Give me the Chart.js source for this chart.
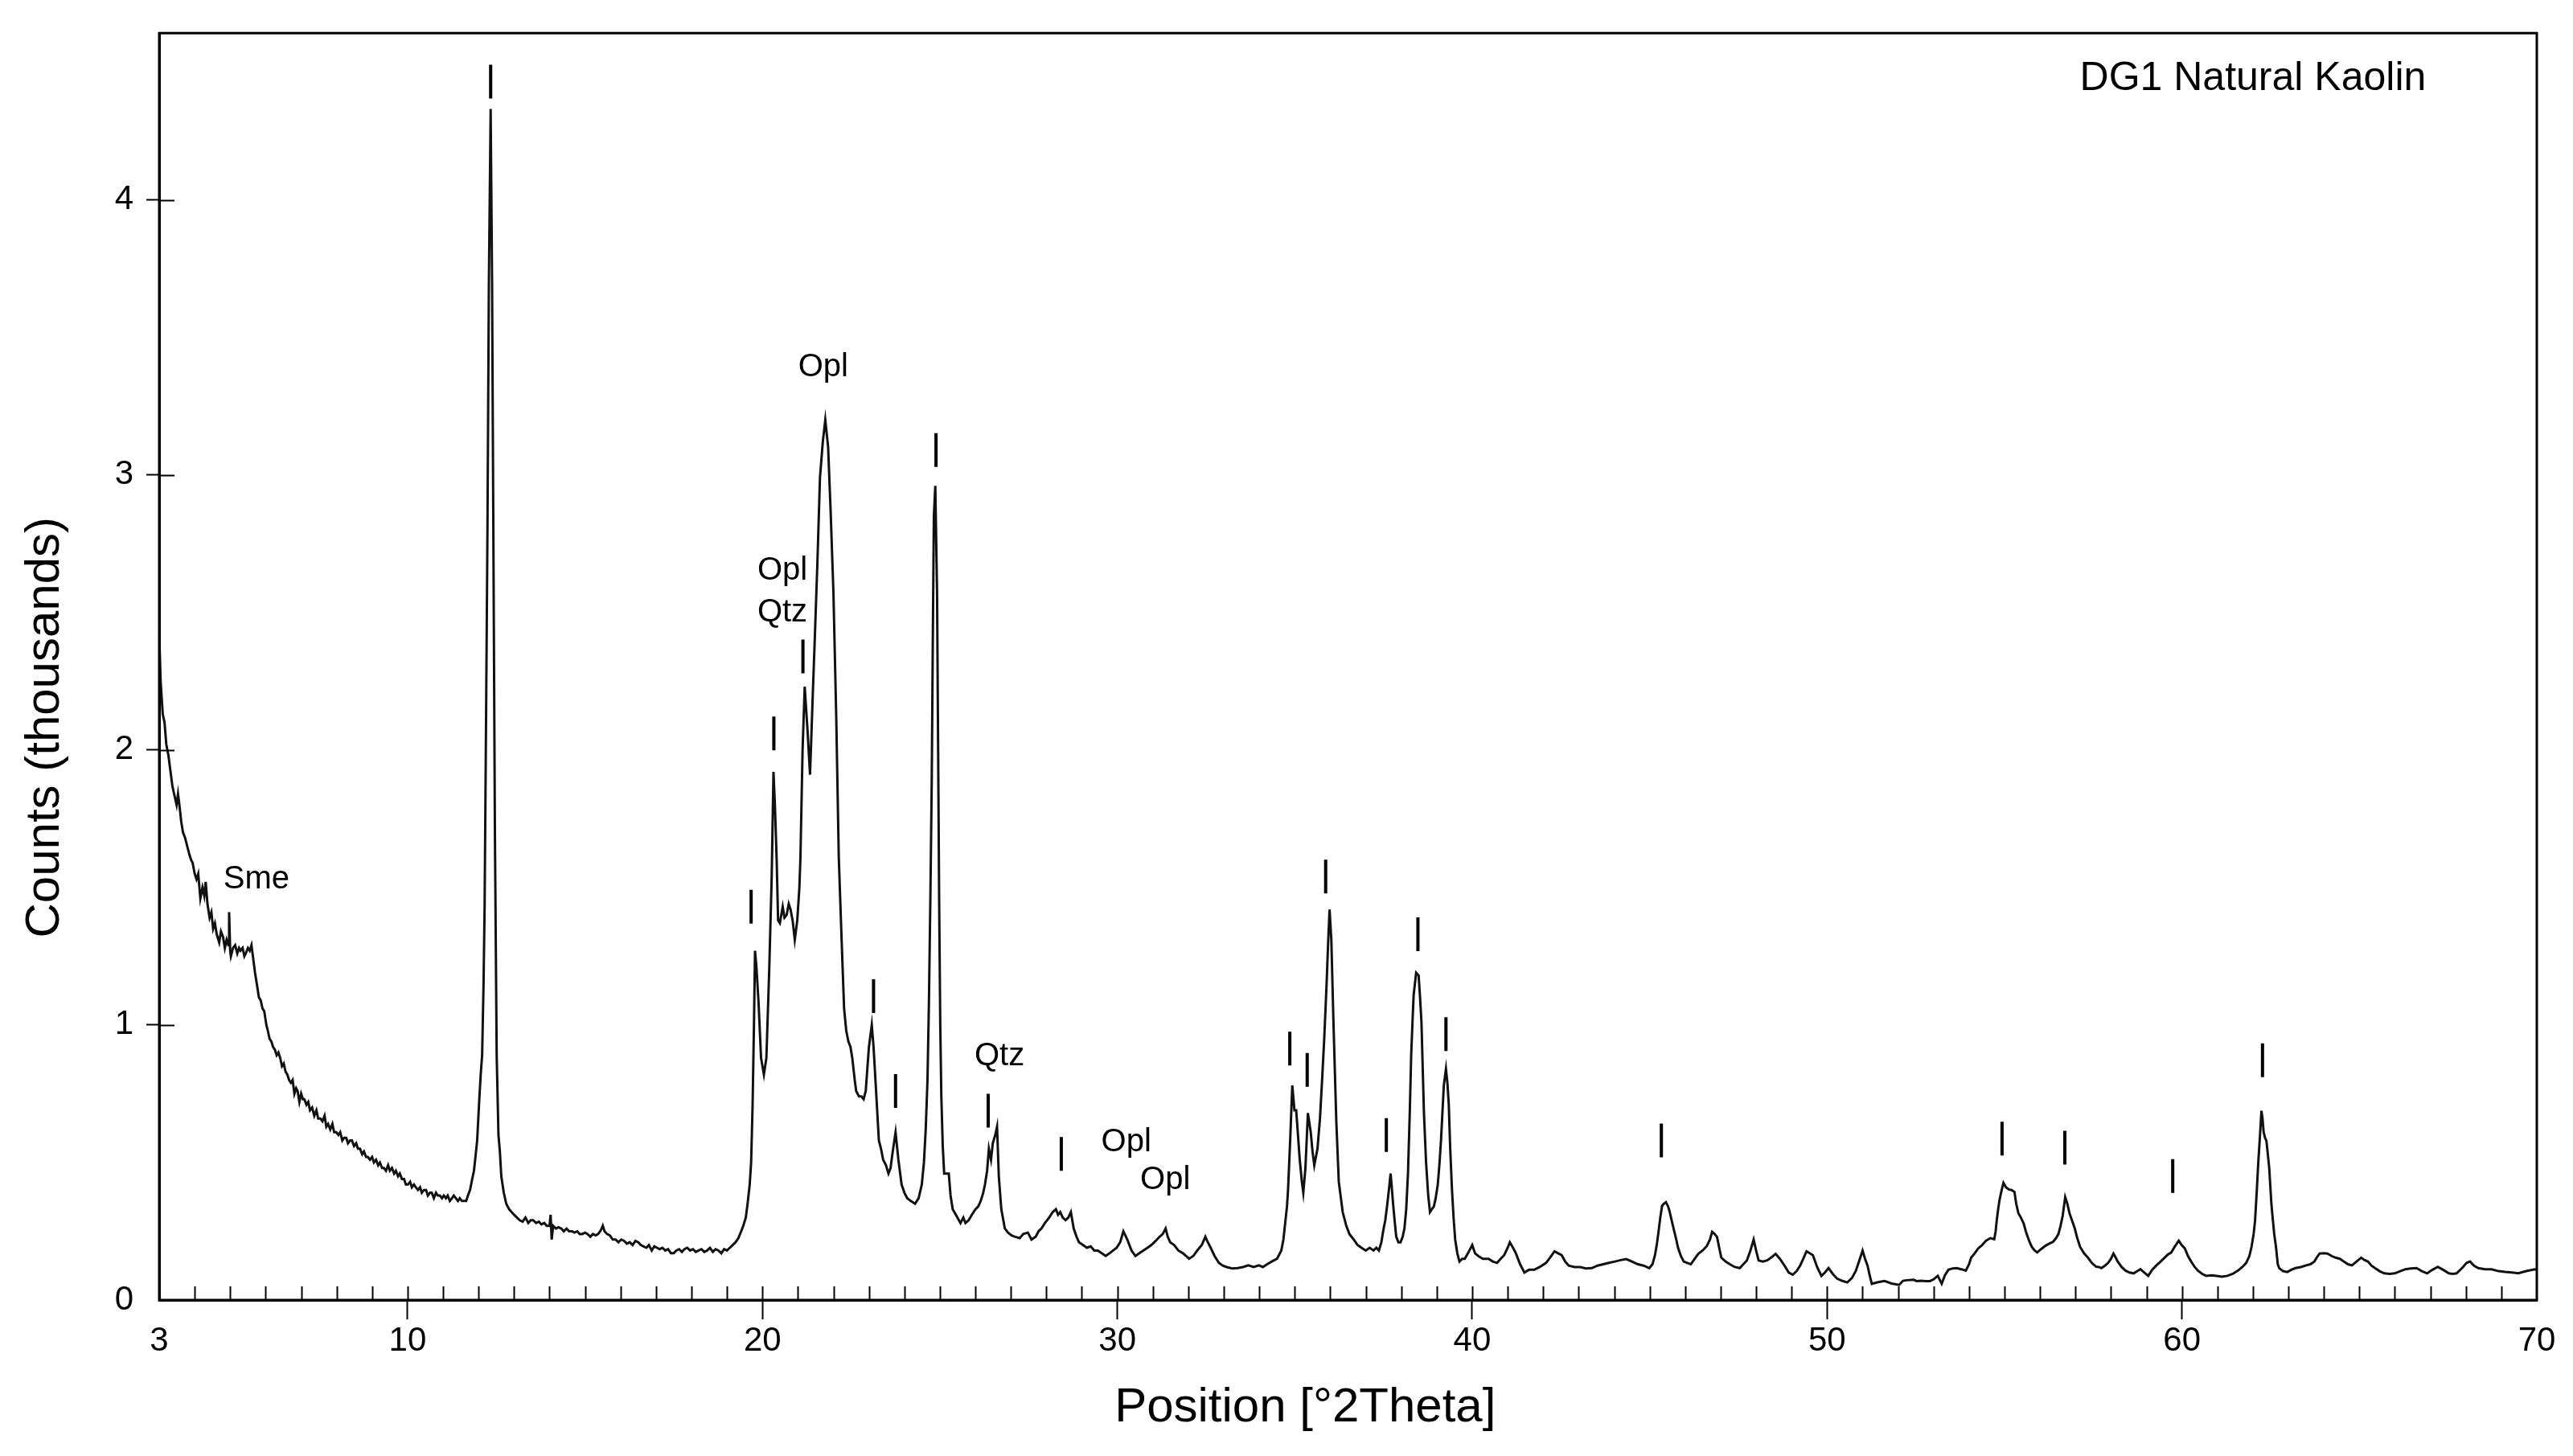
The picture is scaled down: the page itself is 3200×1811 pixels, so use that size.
<!DOCTYPE html>
<html>
<head>
<meta charset="utf-8">
<script src="https://cdn.jsdelivr.net/npm/chart.js@4.4.1/dist/chart.umd.min.js"></script>
<style>
html,body{margin:0;padding:0;background:#ffffff;}
canvas{display:block;}
</style>
</head>
<body>
<canvas id="c" width="3200" height="1811"></canvas>
<script>
// ---- Data (x: °2Theta, y: counts in thousands) ----
const twoTheta = [
3.00,3.04,3.10,3.15,3.20,3.26,3.31,3.37,3.42,3.49,
3.53,3.56,3.62,3.67,3.73,3.79,3.85,3.90,3.94,4.00,
4.05,4.10,4.16,4.22,4.27,4.31,4.36,4.42,4.47,4.52,
4.57,4.62,4.69,4.74,4.80,4.85,4.90,4.95,4.97,5.00,
5.02,5.08,5.14,5.20,5.25,5.29,5.35,5.40,5.44,5.50,
5.55,5.60,5.65,5.70,5.75,5.81,5.86,5.91,5.96,6.02,
6.06,6.11,6.16,6.21,6.26,6.31,6.36,6.41,6.46,6.51,
6.56,6.61,6.66,6.71,6.76,6.81,6.86,6.90,6.95,7.00,
7.05,7.09,7.15,7.20,7.25,7.31,7.37,7.43,7.48,7.54,
7.60,7.66,7.71,7.76,7.82,7.88,7.93,7.99,8.05,8.10,
8.16,8.21,8.27,8.32,8.38,8.43,8.49,8.55,8.60,8.66,
8.72,8.77,8.83,8.88,8.94,9.00,9.05,9.11,9.17,9.22,
9.28,9.33,9.39,9.45,9.50,9.56,9.62,9.67,9.73,9.78,
9.84,9.90,9.95,10.01,10.07,10.12,10.18,10.23,10.29,10.35,
10.40,10.46,10.52,10.57,10.63,10.68,10.74,10.80,10.85,10.91,
10.97,11.02,11.08,11.13,11.19,11.25,11.30,11.36,11.42,11.47,
11.53,11.58,11.65,11.70,11.76,11.82,11.87,11.92,11.96,12.02,
12.06,12.10,12.14,12.17,12.21,12.25,12.29,12.34,12.38,12.42,
12.46,12.51,12.56,12.60,12.64,12.71,12.78,12.86,12.93,13.00,
13.08,13.16,13.24,13.32,13.40,13.47,13.54,13.62,13.70,13.77,
13.85,13.92,14.00,14.03,14.06,14.10,14.18,14.25,14.33,14.40,
14.48,14.55,14.63,14.70,14.78,14.85,14.92,15.00,15.07,15.15,
15.22,15.30,15.37,15.45,15.50,15.55,15.62,15.70,15.78,15.86,
15.94,16.02,16.10,16.18,16.26,16.34,16.42,16.50,16.57,16.65,
16.73,16.80,16.88,16.95,17.03,17.10,17.18,17.26,17.34,17.42,
17.50,17.57,17.65,17.73,17.80,17.88,17.96,18.04,18.12,18.20,
18.28,18.36,18.44,18.52,18.60,18.68,18.76,18.84,18.92,19.00,
19.08,19.16,19.24,19.32,19.40,19.46,19.53,19.58,19.64,19.68,
19.72,19.76,19.79,19.83,19.89,19.96,20.04,20.11,20.19,20.26,
20.31,20.35,20.40,20.44,20.49,20.57,20.62,20.68,20.74,20.79,
20.85,20.91,20.98,21.04,21.07,21.13,21.19,21.27,21.34,21.42,
21.47,21.55,21.62,21.70,21.77,21.85,21.92,22.00,22.08,22.15,
22.23,22.30,22.36,22.42,22.48,22.53,22.60,22.64,22.72,22.79,
22.85,22.91,22.96,23.00,23.08,23.13,23.21,23.28,23.34,23.40,
23.48,23.55,23.61,23.66,23.75,23.83,23.92,24.00,24.08,24.18,
24.30,24.40,24.49,24.55,24.60,24.65,24.69,24.73,24.77,24.80,
24.83,24.87,24.92,24.95,24.98,25.01,25.04,25.08,25.12,25.18,
25.25,25.30,25.36,25.45,25.58,25.66,25.72,25.81,25.90,26.00,
26.08,26.15,26.22,26.27,26.33,26.38,26.44,26.49,26.56,26.61,
26.66,26.73,26.83,26.92,27.02,27.12,27.25,27.35,27.48,27.58,
27.70,27.78,27.86,27.96,28.08,28.18,28.27,28.33,28.39,28.46,
28.54,28.62,28.69,28.77,28.85,28.92,29.03,29.14,29.25,29.35,
29.45,29.56,29.67,29.78,29.88,29.98,30.08,30.17,30.28,30.40,
30.51,30.62,30.73,30.85,30.96,31.08,31.19,31.28,31.36,31.42,
31.49,31.60,31.72,31.85,31.94,32.02,32.14,32.25,32.38,32.48,
32.55,32.63,32.74,32.86,32.97,33.08,33.24,33.39,33.54,33.69,
33.84,33.99,34.10,34.22,34.35,34.50,34.62,34.68,34.73,34.78,
34.81,34.87,34.93,34.99,35.04,35.09,35.14,35.20,35.24,35.30,
35.37,35.45,35.50,35.55,35.64,35.71,35.77,35.83,35.90,35.94,
35.98,36.03,36.09,36.17,36.24,36.35,36.45,36.54,36.66,36.77,
36.88,37.00,37.11,37.22,37.30,37.37,37.44,37.49,37.55,37.60,
37.66,37.70,37.74,37.77,37.82,37.86,37.92,37.98,38.04,38.09,
38.14,38.19,38.24,38.28,38.32,38.35,38.42,38.49,38.53,38.57,
38.64,38.70,38.76,38.81,38.86,38.92,38.97,39.03,39.08,39.12,
39.20,39.26,39.30,39.34,39.38,39.43,39.48,39.52,39.58,39.64,
39.72,39.79,39.88,40.00,40.08,40.17,40.30,40.46,40.58,40.70,
40.80,40.90,41.00,41.06,41.15,41.23,41.35,41.47,41.60,41.75,
41.90,42.08,42.20,42.32,42.42,42.52,42.62,42.72,42.88,43.05,
43.20,43.37,43.53,43.69,43.85,44.02,44.18,44.34,44.50,44.67,
44.83,44.99,45.08,45.15,45.20,45.25,45.30,45.35,45.40,45.46,
45.52,45.56,45.62,45.68,45.75,45.80,45.88,45.96,46.06,46.16,
46.27,46.37,46.49,46.61,46.70,46.76,46.83,46.90,46.96,47.02,
47.14,47.26,47.40,47.54,47.64,47.74,47.84,47.93,48.00,48.07,
48.19,48.31,48.43,48.55,48.67,48.80,48.92,49.03,49.14,49.24,
49.33,49.42,49.51,49.60,49.72,49.84,49.94,50.04,50.16,50.28,
50.42,50.57,50.70,50.81,50.90,51.00,51.07,51.14,51.20,51.26,
51.44,51.62,51.82,52.03,52.14,52.24,52.44,52.52,52.66,52.76,
52.90,53.00,53.12,53.23,53.32,53.42,53.54,53.65,53.78,53.91,
54.00,54.06,54.16,54.26,54.37,54.48,54.60,54.71,54.75,54.78,
54.82,54.86,54.92,54.97,55.04,55.12,55.20,55.28,55.33,55.39,
55.46,55.54,55.60,55.65,55.71,55.77,55.85,55.92,56.03,56.15,
56.26,56.37,56.45,56.52,56.58,56.64,56.71,56.77,56.83,56.90,
56.98,57.05,57.13,57.24,57.35,57.46,57.58,57.66,57.73,57.83,
57.92,58.00,58.07,58.13,58.19,58.30,58.41,58.52,58.64,58.74,
58.83,58.94,59.05,59.16,59.28,59.40,59.51,59.60,59.70,59.80,
59.91,59.99,60.08,60.17,60.26,60.36,60.45,60.57,60.68,60.83,
60.98,61.13,61.28,61.43,61.58,61.70,61.81,61.90,61.96,62.02,
62.06,62.11,62.15,62.20,62.24,62.27,62.30,62.34,62.38,62.42,
62.46,62.52,62.55,62.60,62.65,62.70,62.74,62.85,62.97,63.08,
63.20,63.35,63.50,63.62,63.73,63.80,63.88,64.00,64.10,64.22,
64.33,64.45,64.56,64.68,64.79,64.92,65.05,65.15,65.24,65.34,
65.44,65.57,65.70,65.85,66.00,66.15,66.30,66.45,66.61,66.76,
66.91,67.06,67.21,67.36,67.52,67.63,67.74,67.92,68.02,68.12,
68.23,68.35,68.54,68.73,68.92,69.11,69.30,69.48,69.70,69.94,
70.00
];
const counts = [
2.42,2.25,2.13,2.10,2.02,1.98,1.93,1.87,1.84,1.80,
1.84,1.81,1.74,1.70,1.68,1.65,1.62,1.60,1.59,1.55,
1.53,1.55,1.46,1.50,1.47,1.52,1.44,1.39,1.41,1.35,
1.37,1.33,1.30,1.34,1.32,1.28,1.31,1.29,1.41,1.27,
1.25,1.28,1.29,1.26,1.28,1.27,1.28,1.25,1.26,1.28,
1.27,1.29,1.24,1.19,1.15,1.10,1.09,1.06,1.05,1.00,
0.98,0.95,0.94,0.92,0.91,0.89,0.90,0.88,0.85,0.86,
0.83,0.82,0.80,0.79,0.80,0.75,0.77,0.76,0.72,0.75,
0.73,0.73,0.71,0.72,0.69,0.70,0.67,0.69,0.66,0.66,
0.65,0.67,0.63,0.64,0.62,0.64,0.61,0.61,0.60,0.61,
0.58,0.59,0.59,0.57,0.58,0.58,0.56,0.57,0.55,0.55,
0.53,0.54,0.52,0.52,0.51,0.52,0.50,0.51,0.49,0.50,
0.48,0.48,0.47,0.49,0.47,0.48,0.46,0.47,0.45,0.46,
0.44,0.44,0.42,0.42,0.43,0.41,0.42,0.41,0.40,0.41,
0.39,0.40,0.40,0.38,0.39,0.39,0.37,0.39,0.38,0.38,
0.37,0.38,0.37,0.38,0.36,0.37,0.38,0.37,0.36,0.37,
0.36,0.36,0.36,0.38,0.40,0.44,0.47,0.53,0.58,0.73,
0.82,0.89,1.15,1.43,2.10,2.80,3.70,4.33,3.70,2.70,
1.70,0.89,0.60,0.54,0.45,0.39,0.35,0.33,0.32,0.31,
0.30,0.29,0.285,0.30,0.28,0.29,0.29,0.28,0.285,0.275,
0.28,0.27,0.27,0.31,0.22,0.27,0.26,0.265,0.26,0.25,
0.26,0.25,0.25,0.245,0.25,0.24,0.24,0.245,0.24,0.23,
0.24,0.235,0.24,0.255,0.27,0.25,0.24,0.235,0.22,0.22,
0.21,0.22,0.215,0.205,0.21,0.20,0.215,0.21,0.20,0.195,
0.19,0.20,0.18,0.195,0.19,0.185,0.19,0.18,0.185,0.17,
0.17,0.18,0.185,0.175,0.185,0.19,0.18,0.185,0.175,0.18,
0.185,0.175,0.18,0.19,0.175,0.185,0.18,0.17,0.185,0.18,
0.19,0.20,0.21,0.225,0.25,0.27,0.30,0.35,0.42,0.50,
0.70,1.00,1.27,1.21,1.08,0.88,0.82,0.88,1.20,1.54,
1.92,1.80,1.60,1.38,1.37,1.43,1.39,1.40,1.44,1.42,
1.38,1.31,1.38,1.50,1.61,2.00,2.23,2.07,1.91,2.21,
2.39,2.69,2.99,3.12,3.20,3.10,2.87,2.57,2.11,1.61,
1.31,1.06,0.98,0.94,0.92,0.88,0.80,0.76,0.74,0.74,
0.73,0.76,0.85,0.92,1.00,0.92,0.74,0.58,0.55,0.51,
0.49,0.46,0.48,0.53,0.61,0.51,0.42,0.39,0.37,0.36,
0.35,0.37,0.42,0.50,0.62,0.80,1.08,1.45,1.89,2.40,
2.85,2.96,2.57,2.00,1.43,1.00,0.74,0.56,0.46,0.46,
0.46,0.38,0.33,0.31,0.28,0.30,0.28,0.29,0.31,0.33,
0.34,0.36,0.39,0.42,0.47,0.55,0.51,0.57,0.60,0.63,
0.45,0.33,0.26,0.245,0.235,0.23,0.225,0.24,0.245,0.22,
0.23,0.25,0.26,0.28,0.30,0.32,0.33,0.31,0.32,0.30,
0.29,0.30,0.32,0.26,0.23,0.21,0.20,0.19,0.195,0.18,
0.18,0.17,0.16,0.17,0.18,0.19,0.21,0.25,0.22,0.18,
0.16,0.17,0.18,0.19,0.20,0.215,0.23,0.24,0.26,0.23,
0.21,0.20,0.18,0.17,0.16,0.15,0.16,0.18,0.20,0.23,
0.21,0.19,0.16,0.135,0.125,0.12,0.115,0.116,0.12,0.126,
0.12,0.126,0.12,0.13,0.14,0.15,0.18,0.22,0.28,0.34,
0.40,0.58,0.78,0.69,0.69,0.60,0.51,0.43,0.39,0.48,
0.68,0.61,0.54,0.49,0.55,0.66,0.80,0.95,1.16,1.30,
1.42,1.31,1.01,0.65,0.43,0.32,0.27,0.24,0.22,0.20,
0.19,0.18,0.19,0.18,0.19,0.18,0.21,0.25,0.29,0.34,
0.41,0.46,0.40,0.35,0.28,0.23,0.21,0.21,0.23,0.26,
0.33,0.46,0.68,0.89,1.02,1.11,1.19,1.18,1.10,1.01,
0.68,0.50,0.38,0.32,0.33,0.34,0.37,0.42,0.50,0.58,
0.78,0.84,0.79,0.71,0.55,0.40,0.29,0.22,0.17,0.14,
0.15,0.15,0.17,0.20,0.17,0.16,0.15,0.15,0.14,0.135,
0.15,0.163,0.19,0.21,0.19,0.17,0.13,0.10,0.11,0.11,
0.12,0.135,0.155,0.177,0.17,0.163,0.14,0.125,0.12,0.12,
0.115,0.116,0.125,0.13,0.135,0.14,0.145,0.149,0.14,0.13,
0.125,0.116,0.13,0.163,0.20,0.248,0.30,0.342,0.35,0.356,
0.34,0.323,0.29,0.257,0.22,0.19,0.16,0.14,0.135,0.13,
0.15,0.168,0.18,0.196,0.22,0.248,0.24,0.229,0.19,0.154,
0.14,0.13,0.12,0.116,0.13,0.144,0.18,0.22,0.18,0.144,
0.14,0.144,0.155,0.168,0.15,0.125,0.10,0.092,0.105,0.125,
0.15,0.177,0.17,0.163,0.12,0.088,0.10,0.116,0.095,0.078,
0.07,0.064,0.08,0.106,0.14,0.18,0.15,0.125,0.09,0.059,
0.065,0.069,0.06,0.055,0.07,0.072,0.074,0.069,0.07,0.069,
0.069,0.075,0.088,0.059,0.09,0.11,0.115,0.116,0.112,0.107,
0.13,0.154,0.17,0.188,0.20,0.216,0.225,0.221,0.25,0.288,
0.33,0.364,0.40,0.426,0.41,0.402,0.40,0.393,0.35,0.316,
0.30,0.278,0.25,0.231,0.21,0.193,0.18,0.173,0.185,0.197,
0.205,0.212,0.225,0.24,0.27,0.307,0.374,0.35,0.316,0.29,
0.26,0.225,0.193,0.17,0.154,0.135,0.121,0.12,0.116,0.125,
0.135,0.15,0.169,0.155,0.14,0.12,0.107,0.10,0.097,0.105,
0.112,0.10,0.088,0.11,0.126,0.14,0.154,0.165,0.173,0.195,
0.216,0.20,0.188,0.16,0.14,0.12,0.107,0.095,0.088,0.09,
0.088,0.085,0.088,0.095,0.107,0.12,0.135,0.16,0.193,0.24,
0.288,0.40,0.498,0.60,0.688,0.66,0.612,0.59,0.579,0.53,
0.479,0.35,0.307,0.24,0.193,0.13,0.116,0.105,0.102,0.11,
0.116,0.12,0.126,0.13,0.14,0.155,0.169,0.17,0.169,0.16,
0.154,0.15,0.14,0.13,0.126,0.14,0.154,0.145,0.14,0.125,
0.116,0.105,0.097,0.095,0.097,0.105,0.112,0.115,0.116,0.105,
0.097,0.11,0.121,0.11,0.097,0.095,0.097,0.12,0.135,0.14,
0.125,0.116,0.112,0.112,0.105,0.102,0.10,0.097,0.105,0.112,
0.11
];

// Axis ticks
const xTickValues = [3, 10, 20, 30, 40, 50, 60, 70];
const yTickValues = [0, 1, 2, 3, 4];

// Reflection markers ("|") above peaks: position (°2Theta) and height (thousands)
const peakMarkX = [12.34, 19.68, 20.32, 21.14, 23.13, 23.75, 24.89, 26.36, 28.42, 34.86, 35.35, 35.87, 37.58, 38.47, 39.26, 45.33, 54.93, 56.70, 59.74, 62.27];
const peakMarkY = [4.43, 1.43, 2.06, 2.34, 1.105, 0.76, 3.09, 0.688, 0.531, 0.914, 0.837, 1.54, 0.60, 1.33, 0.967, 0.58, 0.587, 0.554, 0.451, 0.872];

// Phase labels
const phaseLabels = ["Sme", "Opl", "Opl", "Qtz", "Qtz", "Opl", "Opl"];
const phaseLabelX = [5.74, 21.71, 20.56, 20.56, 26.68, 30.25, 31.35];
const phaseLabelY = [1.53, 3.39, 2.65, 2.50, 0.887, 0.574, 0.436];

const sampleName = "DG1 Natural Kaolin";
const sampleNameX = 62.0;
const sampleNameY = 4.44;

const xTitle = "Position [°2Theta]";
const yTitle = "Counts (thousands)";

// ---- Chart ----
const FONT = "'Liberation Sans', Arial, Helvetica, sans-serif";
const n = Math.min(twoTheta.length, counts.length);
const points = [];
for (let i = 0; i < n; i++) points.push({x: twoTheta[i], y: counts[i]});

const decor = {
  id: 'decor',
  afterDraw(chart) {
    const {ctx, chartArea: a, scales: {x, y}} = chart;
    ctx.save();
    ctx.strokeStyle = '#000';
    // frame
    ctx.lineWidth = 3;
    ctx.strokeRect(a.left, a.top, a.right - a.left, a.bottom - a.top);
    // inner ticks on x axis (every degree)
    ctx.lineWidth = 2;
    ctx.beginPath();
    for (let v = Math.ceil(x.min) + 1; v < x.max; v++) {
      const px = Math.round(x.getPixelForValue(v)) + 0.5;
      ctx.moveTo(px, a.bottom);
      ctx.lineTo(px, a.bottom - 17);
    }
    // inner ticks on y axis
    for (const v of yTickValues) {
      if (v === 0) continue;
      const py = Math.round(y.getPixelForValue(v)) + 0.5;
      ctx.moveTo(a.left, py);
      ctx.lineTo(a.left + 19, py);
    }
    ctx.stroke();
    // reflection markers
    ctx.lineWidth = 4;
    ctx.beginPath();
    for (let i = 0; i < peakMarkX.length; i++) {
      const px = x.getPixelForValue(peakMarkX[i]);
      const py = y.getPixelForValue(peakMarkY[i]);
      ctx.moveTo(px, py - 21);
      ctx.lineTo(px, py + 21);
    }
    ctx.stroke();
    // phase labels
    ctx.fillStyle = '#000';
    ctx.textAlign = 'center';
    ctx.textBaseline = 'middle';
    ctx.font = '40px ' + FONT;
    for (let i = 0; i < phaseLabels.length; i++) {
      ctx.fillText(phaseLabels[i], x.getPixelForValue(phaseLabelX[i]), y.getPixelForValue(phaseLabelY[i]));
    }
    // sample name
    ctx.font = '50px ' + FONT;
    ctx.fillText(sampleName, x.getPixelForValue(sampleNameX), y.getPixelForValue(sampleNameY));
    // axis titles
    ctx.font = '60px ' + FONT;
    ctx.fillText(xTitle, a.left + (a.right - a.left) * 0.482, a.bottom + 134);
    ctx.save();
    ctx.translate(56, a.top + (a.bottom - a.top) * 0.548);
    ctx.rotate(-Math.PI / 2);
    ctx.fillText(yTitle, 0, 0);
    ctx.restore();
    ctx.restore();
  }
};

new Chart(document.getElementById('c'), {
  type: 'line',
  data: {
    datasets: [{
      data: points,
      borderColor: '#111111',
      borderWidth: 3,
      pointRadius: 0,
      tension: 0,
      fill: false
    }]
  },
  options: {
    responsive: false,
    devicePixelRatio: 1,
    animation: false,
    events: [],
    layout: {padding: {top: 37, right: 45, left: 0, bottom: 0}},
    plugins: {legend: {display: false}, tooltip: {enabled: false}, title: {display: false}},
    scales: {
      x: {
        type: 'linear',
        min: 3,
        max: 70,
        afterBuildTicks: s => { s.ticks = xTickValues.map(v => ({value: v})); },
        afterFit: s => { s.height = 194; },
        ticks: {
          color: '#000',
          font: {family: FONT, size: 42},
          padding: 2,
          maxRotation: 0,
          autoSkip: false,
          callback: v => String(v)
        },
        grid: {
          drawOnChartArea: false,
          drawTicks: true,
          tickLength: 24,
          tickWidth: 2,
          color: c => (c.tick && (c.tick.value === 3 || c.tick.value === 70)) ? 'rgba(0,0,0,0)' : '#000'
        },
        border: {display: true, color: '#000', width: 3}
      },
      y: {
        type: 'linear',
        min: 0,
        max: 4.606,
        afterBuildTicks: s => { s.ticks = yTickValues.map(v => ({value: v})); },
        afterFit: s => { s.width = 198; },
        ticks: {
          color: '#000',
          font: {family: FONT, size: 42},
          padding: 16,
          callback: v => String(v)
        },
        grid: {
          drawOnChartArea: false,
          drawTicks: true,
          tickLength: 16,
          tickWidth: 2,
          color: c => (c.tick && c.tick.value === 0) ? 'rgba(0,0,0,0)' : '#000'
        },
        border: {display: true, color: '#000', width: 3}
      }
    }
  },
  plugins: [decor]
});
</script>
</body>
</html>
